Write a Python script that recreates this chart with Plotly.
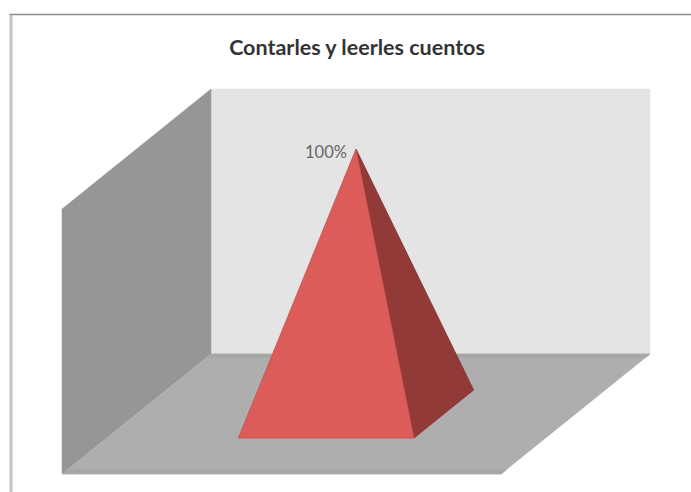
import plotly.graph_objects as go

chart_title = "Contarles y leerles cuentos"
categories = ["Contarles y leerles cuentos"]
values = [100]
value_suffix = "%"
axis_max = 100

W, H = 691, 492
# Pixel scale of the two axes and the oblique shift of the depth axis
ORIGIN_X, ORIGIN_Y = 62, 474
PX_PER_CAT, PX_PER_VAL = 439, 265 / axis_max
DEPTH_DX, DEPTH_DY = 149 / PX_PER_CAT, 120 / PX_PER_VAL
GAP = 0.3  # margin of the base inside its category cell


def proj(pts):
    """(category, value, depth) -> oblique x/y in axis units."""
    return ([p[0] + p[2] * DEPTH_DX for p in pts] + [pts[0][0] + pts[0][2] * DEPTH_DX],
            [p[1] + p[2] * DEPTH_DY for p in pts] + [pts[0][1] + pts[0][2] * DEPTH_DY])


fig = go.Figure()


def face(pts, fill, line=None, width=0):
    x, y = proj(pts)
    fig.add_trace(go.Scatter(x=x, y=y, mode="lines", fill="toself", fillcolor=fill,
                             line=dict(color=line or fill, width=width or 0.5),
                             hoverinfo="skip", showlegend=False))


n = len(categories)
# Walls and floor
face([(0, axis_max, 1), (n, axis_max, 1), (n, 0, 1), (0, 0, 1)], "#e4e4e4")
face([(0, 0, 0), (0, axis_max, 0), (0, axis_max, 1), (0, 0, 1)], "#969696")
face([(0, 0, 0), (n, 0, 0), (n, 0, 1), (0, 0, 1)], "#aeaeae")
# Slightly darker bands along the front and back of the floor
face([(0, 0, 0), (n, 0, 0), (n, 0, 0.035), (0, 0, 0.035)], "#a6a6a6")
face([(0, 0, 0.97), (n, 0, 0.97), (n, 0, 1), (0, 0, 1)], "#a6a6a6")

annotations = []
# Pyramids
for i, v in enumerate(values):
    a, b = i + GAP, i + 1 - GAP
    apex = (i + 0.5, v, 0.5)
    face([(b, 0, GAP), (b, 0, 1 - GAP), apex], "#923a38", "#7f302e", 0.8)
    face([(a, 0, GAP), (b, 0, GAP), apex], "#dc5c59", "#c54f4c", 0.8)
    ax, ay = proj([apex])
    annotations.append(dict(x=ax[0], y=ay[0], xref="x", yref="y", text=f"{v}{value_suffix}",
                            showarrow=False, xanchor="right", yanchor="middle",
                            xshift=-7, yshift=-3,
                            font=dict(family="Lato", size=16.5, color="#666666")))

fig.update_layout(
    width=W, height=H, margin=dict(l=0, r=0, t=0, b=0),
    paper_bgcolor="white", plot_bgcolor="white", showlegend=False,
    title=dict(text=chart_title, x=357 / W, xanchor="center", y=1 - 47 / H, yanchor="middle",
               font=dict(family="Lato", size=21.5, color="#333333", weight="bold")),
    xaxis=dict(visible=False, range=[-ORIGIN_X / PX_PER_CAT, (W - ORIGIN_X) / PX_PER_CAT]),
    yaxis=dict(visible=False, range=[-(H - ORIGIN_Y) / PX_PER_VAL, ORIGIN_Y / PX_PER_VAL]),
    annotations=annotations,
    shapes=[
        dict(type="line", xref="paper", yref="paper", x0=9.5 / W, x1=1, y0=1 - 14.5 / H, y1=1 - 14.5 / H,
             line=dict(color="#8c8c8c", width=1.5)),
        dict(type="line", xref="paper", yref="paper", x0=11 / W, x1=11 / W, y0=0, y1=1 - 15 / H,
             line=dict(color="#c4c4c4", width=3)),
    ],
)
fig.write_html("out.html", config=dict(displayModeBar=False),
               post_script="document.body.style.margin='0';document.documentElement.style.overflow='hidden';")
